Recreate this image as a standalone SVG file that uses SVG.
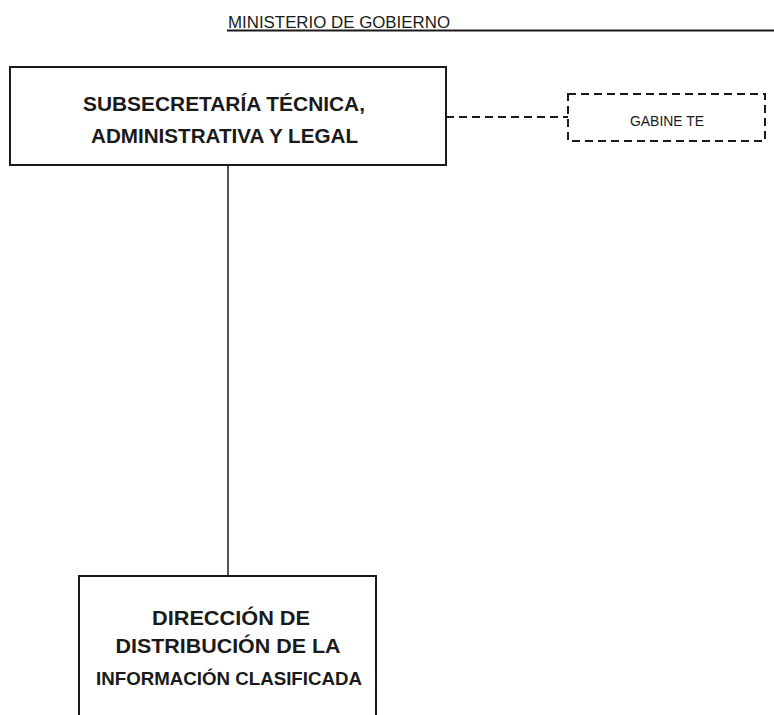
<svg xmlns="http://www.w3.org/2000/svg" width="774" height="715" viewBox="0 0 774 715">
<style>
.box{fill:#fff;stroke:#1a1a1a;stroke-width:2}
.dash{fill:none;stroke:#1a1a1a;stroke-width:2;stroke-dasharray:8 5}
.line{fill:none;stroke:#1a1a1a;stroke-width:1.5}
.t{font-family:"Liberation Sans",Arial,sans-serif;fill:#1a1a1a}
.b{font-weight:bold}
</style>
<rect width="774" height="715" fill="#fff"/>
<g id="header">
<text class="t" x="228" y="28" font-size="16" textLength="222" lengthAdjust="spacingAndGlyphs">MINISTERIO DE GOBIERNO</text>
<line x1="227" y1="30.5" x2="774" y2="30.5" stroke="#1a1a1a" stroke-width="2"/>
</g>
<g id="connectors">
<line class="line" x1="228" y1="165" x2="228" y2="577"/>
<line class="dash" x1="446" y1="117" x2="568" y2="117"/>
</g>
<g id="subsecretaria">
<rect class="box" x="10" y="67" width="436" height="98"/>
<text class="t b" x="83" y="111" font-size="21" textLength="282" lengthAdjust="spacingAndGlyphs">SUBSECRETARÍA TÉCNICA,</text>
<text class="t b" x="91" y="143" font-size="21" textLength="267" lengthAdjust="spacingAndGlyphs">ADMINISTRATIVA Y LEGAL</text>
</g>
<g id="gabinete">
<rect class="dash" x="568" y="94" width="197" height="47"/>
<text class="t" x="667" y="126" font-size="14" text-anchor="middle" textLength="74" lengthAdjust="spacingAndGlyphs">GABINE TE</text>
</g>
<g id="direccion">
<path class="box" d="M79 716 V576 H376 V716"/>
<text class="t b" x="231" y="625" font-size="20" text-anchor="middle" textLength="158" lengthAdjust="spacingAndGlyphs">DIRECCIÓN DE</text>
<text class="t b" x="228" y="653" font-size="20" text-anchor="middle" textLength="225" lengthAdjust="spacingAndGlyphs">DISTRIBUCIÓN DE LA</text>
<text class="t b" x="96" y="685" font-size="19" textLength="266" lengthAdjust="spacingAndGlyphs">INFORMACIÓN  CLASIFICADA</text>
</g>
</svg>
